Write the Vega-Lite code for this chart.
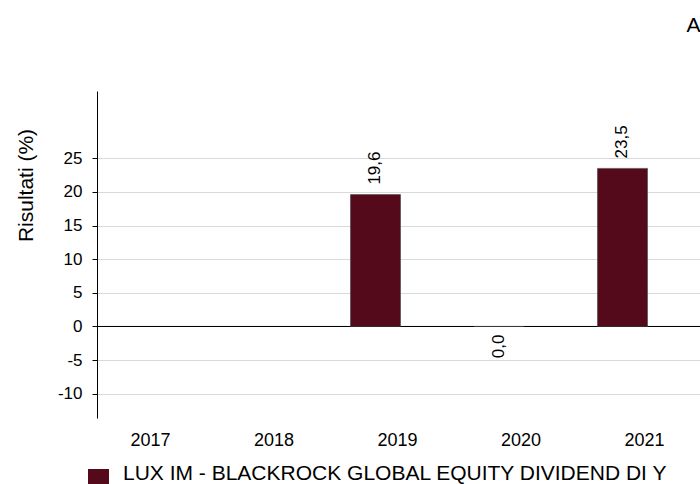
{
  "$schema": "https://vega.github.io/schema/vega-lite/v6.json",
  "width": 603,
  "height": 327,
  "autosize": {"type": "none"},
  "padding": {"left": 97, "top": 91, "right": 0, "bottom": 66},
  "config": {
    "locale": {"number": {"decimal": ",", "thousands": ".", "grouping": [3], "currency": ["€", ""], "minus": "-"}},
    "view": {"stroke": null},
    "font": "Liberation Sans"
  },
  "title": {"text": "A", "anchor": "end", "fontSize": 21, "fontWeight": "normal", "font": "Liberation Sans", "color": "#000", "offset": 55},
  "data": {
    "values": [
      {"anno": "2019", "serie": "LUX IM - BLACKROCK GLOBAL EQUITY DIVIDEND DI Y", "valore": 19.6},
      {"anno": "2020", "serie": "LUX IM - BLACKROCK GLOBAL EQUITY DIVIDEND DI Y", "valore": 0.0},
      {"anno": "2021", "serie": "LUX IM - BLACKROCK GLOBAL EQUITY DIVIDEND DI Y", "valore": 23.5}
    ]
  },
  "encoding": {
    "x": {
      "field": "anno", "type": "nominal",
      "scale": {"domain": ["2017", "2018", "2019", "2020", "2021"], "paddingInner": 0.595, "paddingOuter": 0.2388, "align": 0.11},
      "axis": {"title": null, "labelAngle": 0, "domain": false, "ticks": false, "grid": false, "labelFontSize": 18, "labelPadding": 13, "labelOffset": 22, "labelColor": "#000", "labelFont": "Liberation Sans"}
    },
    "y": {
      "field": "valore", "type": "quantitative",
      "scale": {"domain": [-13.6, 35], "nice": false, "zero": false},
      "axis": {
        "values": [-10, -5, 0, 5, 10, 15, 20, 25],
        "title": "Risultati (%)", "titleFontSize": 21, "titleFontWeight": "normal", "titleColor": "#000", "titleFont": "Liberation Sans",
        "titleX": -70.5, "titleY": 94, "titleAngle": 270, "titleAlign": "center", "titleBaseline": "middle",
        "labelFontSize": 17, "labelColor": "#000", "labelPadding": 10, "labelFont": "Liberation Sans",
        "tickSize": 5, "tickColor": "#000", "domainColor": "#000", "grid": true, "gridColor": "#d9d9d9"
      }
    }
  },
  "layer": [
    {
      "mark": {"type": "rule", "color": "#000", "strokeWidth": 1},
      "encoding": {"x": null, "y": {"datum": 0, "type": "quantitative"}}
    },
    {
      "mark": {"type": "bar", "stroke": "#444", "strokeWidth": 0.6},
      "encoding": {
        "color": {
          "field": "serie", "type": "nominal",
          "scale": {"range": ["#540a1a"]},
          "legend": {"orient": "none", "legendX": -9, "legendY": 378, "padding": 0, "title": null, "symbolType": "square", "symbolSize": 441, "symbolStrokeWidth": 0, "labelFontSize": 21, "labelColor": "#000", "labelFont": "Liberation Sans", "labelOffset": 14, "labelLimit": 800, "labelBaseline": "alphabetic"}
        }
      }
    },
    {
      "transform": [{"filter": "datum.valore > 0"}],
      "mark": {"type": "text", "angle": 270, "align": "left", "baseline": "middle", "dx": 10, "fontSize": 17, "color": "#000", "font": "Liberation Sans"},
      "encoding": {"text": {"field": "valore", "type": "quantitative", "format": ".1f"}}
    },
    {
      "transform": [{"filter": "datum.valore <= 0"}],
      "mark": {"type": "text", "angle": 270, "align": "right", "baseline": "middle", "dx": -8, "fontSize": 17, "color": "#000", "font": "Liberation Sans"},
      "encoding": {"text": {"field": "valore", "type": "quantitative", "format": ".1f"}}
    }
  ]
}
